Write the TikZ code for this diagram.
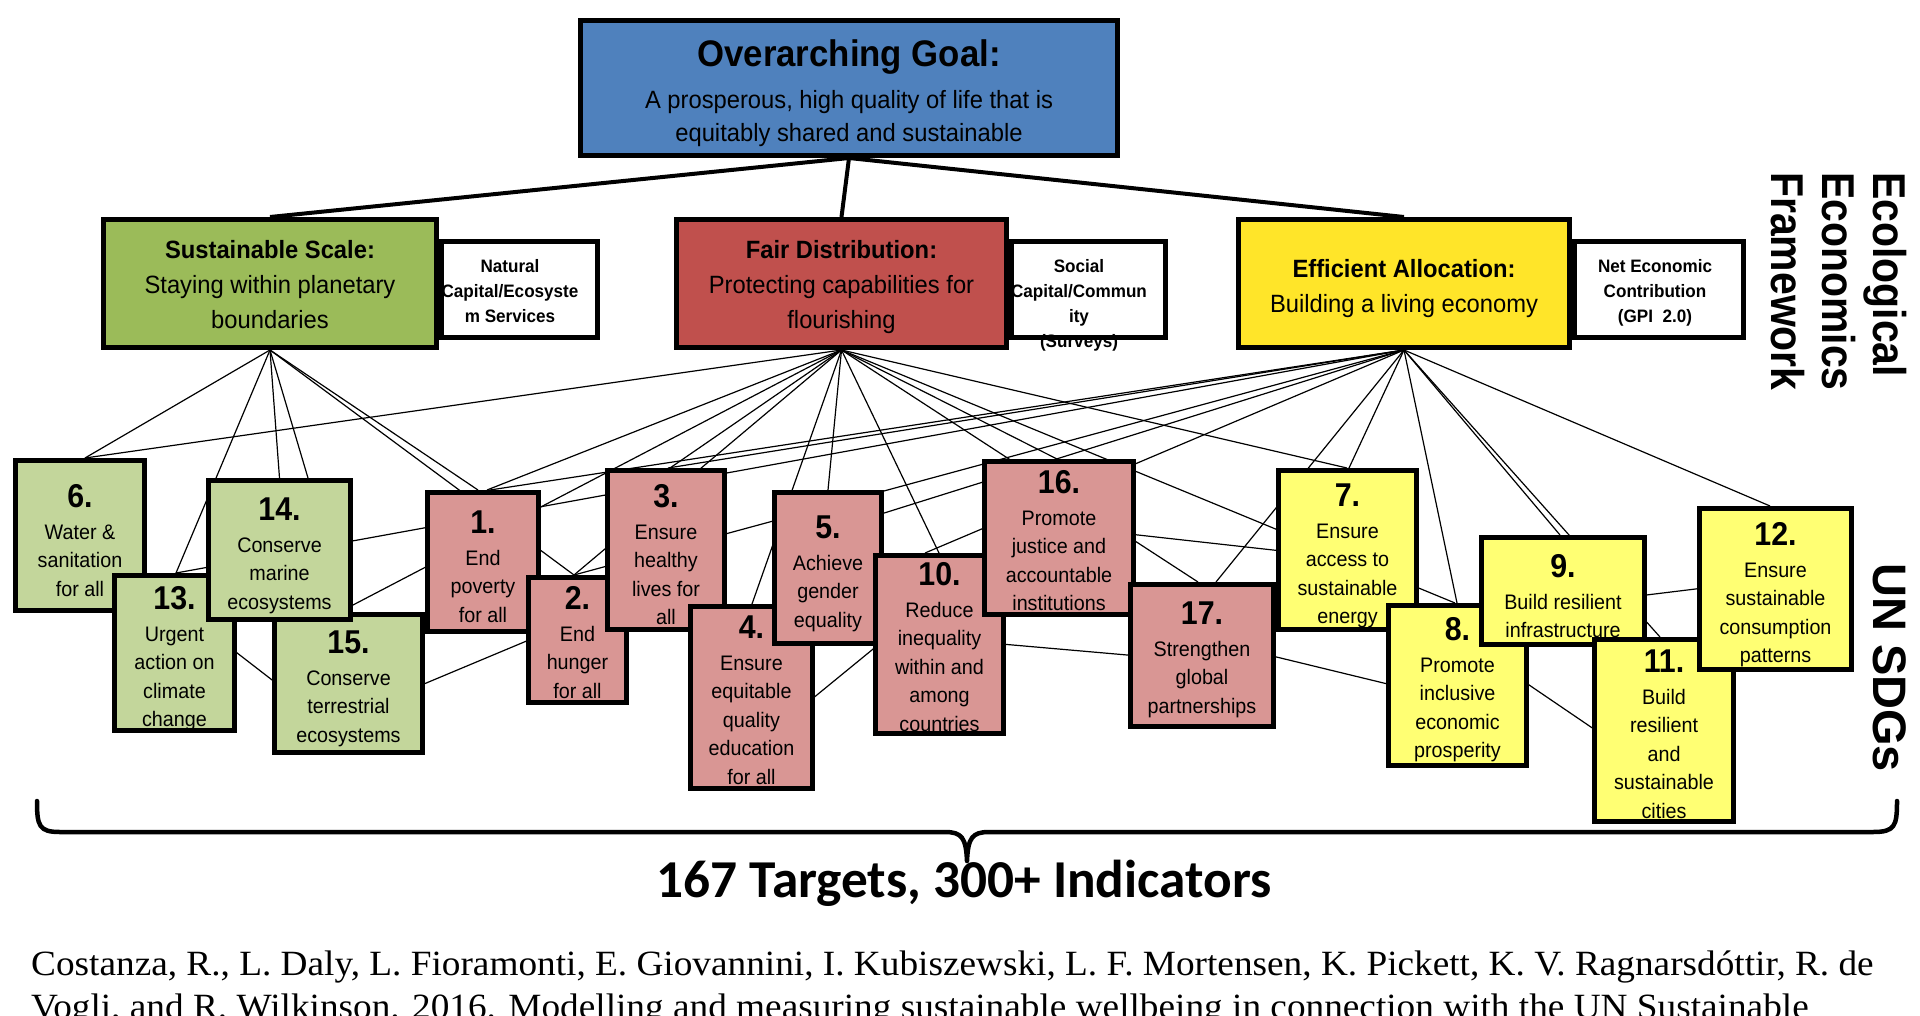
\documentclass[tikz,border=0pt]{standalone}
\usepackage{fontspec}
\setmainfont{Liberation Sans}
\newfontfamily\goalfont{Liberation Sans}[FakeStretch=0.95]
\newfontfamily\headfont{Liberation Sans}[FakeStretch=0.94]
\newfontfamily\sdgfont{Liberation Sans}[FakeStretch=0.94]
\newfontfamily\sdgnumfont{Liberation Sans}[FakeStretch=0.92]
\newfontfamily\sidefont{Liberation Sans}[FakeStretch=0.89]
\newfontfamily\sdgsidefont{Liberation Sans}
\newfontfamily\targetfont{Carlito}
\newfontfamily\citefont{Liberation Serif}[FakeStretch=1.05]
\usetikzlibrary{calc,backgrounds}

\definecolor{goalblue}{HTML}{4F81BD}
\definecolor{scalegreen}{HTML}{9BBB59}
\definecolor{distred}{HTML}{C0504D}
\definecolor{allocyellow}{HTML}{FFE529}
\definecolor{sdggreen}{HTML}{C3D69B}
\definecolor{sdgred}{HTML}{D99694}
\definecolor{sdgyellow}{HTML}{FFFF73}

\tikzset{
  boxframe/.style={draw=black, line width=5bp, rectangle, inner sep=0pt},
  textnode/.style={inner sep=0pt, text=black},
  thinlink/.style={draw=black, line width=1.2bp},
  trunkline/.style={draw=black, line width=4bp},
  bracket/.style={draw=black, line width=4.5bp, line cap=round, line join=round},
}

% framed box given by its outer left, top, right and bottom edges
\newcommand\boxnode[6]{%
  \node[boxframe, fill=#6, minimum width={(#4-#2-5)*1bp}, minimum height={(#5-#3-5)*1bp}]
    (#1) at ({(#2+#4)/2},{(#3+#5)/2}) {};}

% centred lines, aligned on the baseline of the first one
\newcommand\textstack[2]{\begin{tabular}[t]{@{}#1@{}}#2\end{tabular}}

% one SDG card: number, left, top, right, bottom, fill, first baseline, lines
\newcommand\sdgcard[8]{%
  \boxnode{s#1}{#2}{#3}{#4}{#5}{#6}
  \node[textnode, anchor=base, font=\sdgfont\fontsize{21bp}{28.6bp}\selectfont]
    (s#1t) at ({(#2+#4)/2},#7)
    {\textstack{c}{{\sdgnumfont\bfseries\fontsize{33bp}{33bp}\selectfont #1.}\\[3.4bp] #8}};}

\begin{document}
\begin{tikzpicture}[x=1bp, y=-1bp]
\useasboundingbox (0,0) rectangle (1920,1015);
\clip (0,0) rectangle (1920,1015);

% ---------- top level ----------
\boxnode{goal}{578}{18}{1120}{158}{goalblue}
\node[textnode, anchor=base, font=\goalfont\fontsize{25bp}{33bp}\selectfont] (goalt) at (849,66)
  {\textstack{c}{{\headfont\bfseries\fontsize{37bp}{37bp}\selectfont Overarching Goal:}\\[9bp]
   A prosperous, high quality of life that is\\ equitably shared and sustainable}};

% ---------- three goals with their measures ----------
\boxnode{natcap}{439}{239}{600}{340}{white}
\node[textnode, anchor=base, font=\goalfont\bfseries\fontsize{18bp}{25bp}\selectfont] (natcapt) at (510,272)
  {\textstack{c}{Natural\\ Capital/Ecosyste\\ m Services}};
\boxnode{scale}{101}{217}{439}{350}{scalegreen}
\node[textnode, anchor=base, font=\goalfont\fontsize{25bp}{35bp}\selectfont] (scalet) at (270,258)
  {\textstack{c}{\bfseries Sustainable Scale:\\ Staying within planetary\\ boundaries}};

\boxnode{soccap}{1009}{239}{1168}{340}{white}
\boxnode{fair}{674}{217}{1009}{350}{distred}
\node[textnode, anchor=base, font=\goalfont\fontsize{25bp}{35bp}\selectfont] (fairt) at (841.5,258)
  {\textstack{c}{\bfseries Fair Distribution:\\ Protecting capabilities for\\ flourishing}};
\node[textnode, anchor=base, font=\goalfont\bfseries\fontsize{18bp}{25bp}\selectfont] (soccapt) at (1079,272)
  {\textstack{c}{Social\\ Capital/Commun\\ ity\\ (Surveys)}};

\boxnode{netcon}{1572}{239}{1746}{340}{white}
\node[textnode, anchor=base, font=\goalfont\bfseries\fontsize{18bp}{25bp}\selectfont] (netcont) at (1655,272)
  {\textstack{c}{Net Economic\\ Contribution\\ (GPI~ 2.0)}};
\boxnode{alloc}{1236}{217}{1572}{350}{allocyellow}
\node[textnode, anchor=base, font=\goalfont\fontsize{25bp}{35bp}\selectfont] (alloct) at (1404,277)
  {\textstack{c}{\bfseries Efficient Allocation:\\ Building a living economy}};

% ---------- the SDG cards, back to front ----------
\sdgcard{6}{13}{458}{147}{613}{sdggreen}{507}{Water \&\\ sanitation\\ for all}
\sdgcard{13}{112}{573}{237}{733}{sdggreen}{609}{Urgent\\ action on\\ climate\\ change}
\sdgcard{15}{272}{612}{425}{755}{sdggreen}{653}{Conserve\\ terrestrial\\ ecosystems}
\sdgcard{14}{206}{478}{353}{622}{sdggreen}{520}{Conserve\\ marine\\ ecosystems}
\sdgcard{1}{425}{490}{541}{634}{sdgred}{533}{End\\ poverty\\ for all}
\sdgcard{2}{526}{575}{629}{705}{sdgred}{609}{End\\ hunger\\ for all}
\sdgcard{3}{605}{468}{727}{632}{sdgred}{507}{Ensure\\ healthy\\ lives for\\ all}
\sdgcard{4}{688}{604}{815}{791}{sdgred}{638}{Ensure\\ equitable\\ quality\\ education\\ for all}
\sdgcard{5}{772}{490}{884}{646}{sdgred}{538}{Achieve\\ gender\\ equality}
\sdgcard{10}{873}{553}{1006}{736}{sdgred}{585}{Reduce\\ inequality\\ within and\\ among\\ countries}
\sdgcard{16}{982}{459}{1136}{617}{sdgred}{493}{Promote\\ justice and\\ accountable\\ institutions}
\sdgcard{17}{1128}{582}{1276}{729}{sdgred}{624}{Strengthen\\ global\\ partnerships}
\sdgcard{7}{1276}{468}{1419}{632}{sdgyellow}{506}{Ensure\\ access to\\ sustainable\\ energy}
\sdgcard{8}{1386}{603}{1529}{768}{sdgyellow}{640}{Promote\\ inclusive\\ economic\\ prosperity}
\sdgcard{9}{1479}{535}{1647}{647}{sdgyellow}{577}{Build resilient\\ infrastructure}
\sdgcard{11}{1592}{637}{1736}{824}{sdgyellow}{672}{Build\\ resilient\\ and\\ sustainable\\ cities}
\sdgcard{12}{1697}{506}{1854}{672}{sdgyellow}{545}{Ensure\\ sustainable\\ consumption\\ patterns}

% ---------- connectors, kept behind the boxes ----------
\begin{pgfonlayer}{background}
\fill[white] (0,0) rectangle (1920,1015);
\draw[trunkline] (goal.south) -- (scale.north);
\draw[trunkline] (goal.south) -- (fair.north);
\draw[trunkline] (goal.south) -- (alloc.north);
% sustainable scale
\draw[thinlink] (scale.south) -- ($(s6.north)+(5,0)$);
\draw[thinlink] (scale.south) -- ($(s13.north)+(1.5,0)$);
\draw[thinlink] (scale.south) -- (s14.north);
\draw[thinlink] (scale.south) -- ($(s14.north)+(28.5,0)$);
\draw[thinlink] (scale.south) -- ($(s1.north)+(-5,0)$);
\draw[thinlink] (scale.south) -- ($(s2.north)+(-3.5,0)$);
% fair distribution
\draw[thinlink] (fair.south) -- ($(s6.north)+(5,0)$);
\draw[thinlink] (fair.south) -- ($(s1.north)+(4,0)$);
\draw[thinlink] (fair.south) -- ($(s14.center)+(50.5,67)$);
\draw[thinlink] (fair.south) -- ($(s3.north)+(4,0)$);
\draw[thinlink] (fair.south) -- ($(s2.north)+(-3.5,0)$);
\draw[thinlink] (fair.south) -- ($(s4.north)+(0.5,0)$);
\draw[thinlink] (fair.south) -- (s5.north);
\draw[thinlink] (fair.south) -- ($(s10.north)+(-0.5,0)$);
\draw[thinlink] (fair.south) -- ($(s16.north)+(-2,0)$);
\draw[thinlink] (fair.south) -- ($(s17.north)+(-4,0)$);
\draw[thinlink] (fair.south) -- ($(s7.north)+(-0.5,0)$);
\draw[thinlink] (fair.south) -- ($(s8.north)+(-2.5,0)$);
% efficient allocation
\draw[thinlink] (alloc.south) -- ($(s1.north)+(7,0)$);
\draw[thinlink] (alloc.south) -- ($(s3.north)+(2,0)$);
\draw[thinlink] (alloc.south) -- ($(s13.north)+(1.5,0)$);
\draw[thinlink] (alloc.south) -- ($(s2.north)+(-3.5,0)$);
\draw[thinlink] (alloc.south) -- ($(s5.north)+(2,40)$);
\draw[thinlink] (alloc.south) -- ($(s10.north)+(-14.5,0)$);
\draw[thinlink] (alloc.south) -- ($(s17.north)+(14,0)$);
\draw[thinlink] (alloc.south) -- ($(s7.north)+(1.5,0)$);
\draw[thinlink] (alloc.south) -- ($(s8.north)+(-0.5,0)$);
\draw[thinlink] (alloc.south) -- ($(s9.north)+(-3,0)$);
\draw[thinlink] (alloc.south) -- ($(s11.north)+(-4,0)$);
\draw[thinlink] (alloc.south) -- ($(s12.north)+(-5.5,0)$);
% links between goals
\draw[thinlink] ($(s6.center)+(20,11.5)$) -- ($(s15.center)+(-28.5,33.5)$);
\draw[thinlink] ($(s15.center)+(51.5,10.5)$) -- ($(s2.center)+(-17.5,-13)$);
\draw[thinlink] ($(s4.center)+(38.5,19.5)$) -- ($(s10.center)+(-39.5,-17.5)$);
\draw[thinlink] ($(s10.center)+(50.5,-1.5)$) -- ($(s17.center)+(-52,1.5)$);
\draw[thinlink] ($(s16.center)+(61,-5)$) -- ($(s7.center)+(-47.5,3)$);
\draw[thinlink] ($(s17.center)+(58,-2.5)$) -- ($(s8.center)+(-57.5,1.5)$);
\draw[thinlink] ($(s8.center)+(52.5,-13.5)$) -- ($(s11.center)+(-54,9.5)$);
\draw[thinlink] ($(s9.center)+(67,6)$) -- ($(s12.center)+(-55.5,-3)$);
\end{pgfonlayer}

% ---------- side titles ----------
\node[textnode, rotate=-90, anchor=base west, font=\sidefont\bfseries\fontsize{46bp}{51bp}\selectfont]
  (eeframe) at (1873,172) {\textstack{l}{Ecological\\ Economics\\ Framework}};
\node[textnode, rotate=-90, anchor=base west, font=\sdgsidefont\bfseries\fontsize{47bp}{51bp}\selectfont]
  (unsdgs) at (1873,563) {UN SDGs};

% ---------- brace and targets ----------
\draw[bracket] (37,801) .. controls (37,826) and (39,832) .. (60,832) -- (945,832)
  .. controls (962,832) and (966,838) .. (967,861)
  .. controls (968,838) and (972,832) .. (989,832) -- (1873,832)
  .. controls (1895,832) and (1897,826) .. (1897,801);
\node[textnode, anchor=base, font=\targetfont\bfseries\fontsize{53.3bp}{53.3bp}\selectfont] (targets) at (964,897)
  {167 Targets, 300+ Indicators};

% ---------- reference ----------
\node[textnode, anchor=base west, font=\citefont\fontsize{35.5bp}{42bp}\selectfont] (cite1) at (31,975)
  {Costanza, R., L. Daly, L. Fioramonti, E. Giovannini, I. Kubiszewski, L. F. Mortensen, K. Pickett, K. V. Ragnarsdóttir, R. de};
\node[textnode, anchor=base west, font=\citefont\fontsize{35.5bp}{42bp}\selectfont] (cite2) at (31,1018)
  {Vogli, and R. Wilkinson. 2016. Modelling and measuring sustainable wellbeing in connection with the UN Sustainable};
\end{tikzpicture}
\end{document}
